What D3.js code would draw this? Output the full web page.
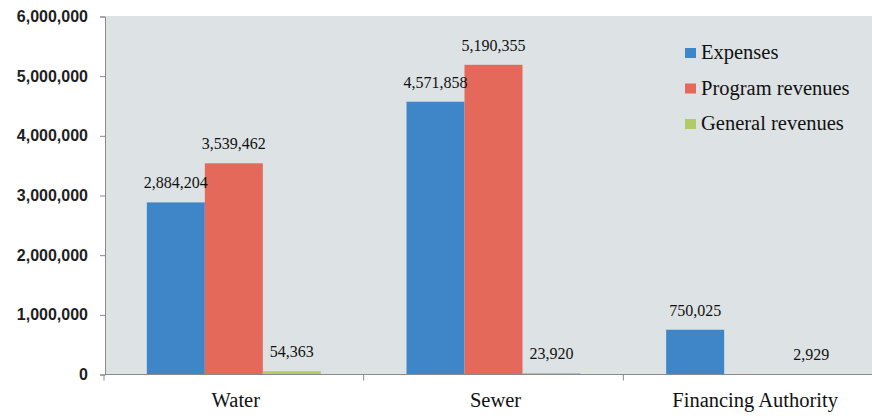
<!DOCTYPE html>
<html><head><meta charset="utf-8">
<script src="https://cdn.jsdelivr.net/npm/d3@7"></script>
<style>body{margin:0;background:#fff}svg{display:block}</style>
</head><body>
<svg id="chart" width="872" height="416"></svg>
<script>
const categories = ["Water", "Sewer", "Financing Authority"];
const seriesNames = ["Expenses", "Program revenues", "General revenues"];
const expenses = [2884204, 4571858, 750025];
const programRevenues = [3539462, 5190355, 0];
const generalRevenues = [54363, 23920, 2929];
const yTicks = [0, 1000000, 2000000, 3000000, 4000000, 5000000, 6000000];
const colors = ["#3f86c9", "#e4695a", "#b3cb66"];

const seriesValues = [expenses, programRevenues, generalRevenues];
const svg = d3.select("#chart");
const W = 872, H = 416;
const plotLeft = 105, plotRight = 872, plotTop = 16, plotBottom = 374.5;

const y = d3.scaleLinear().domain([0, 6000000]).range([plotBottom, 16.5]);
const x0 = d3.scaleBand().domain(categories).range([104, 883]).paddingInner(0).paddingOuter(0);
const x1 = d3.scaleBand().domain(seriesNames).range([0, x0.bandwidth()]).paddingInner(0).paddingOuter(0.7386);

// plot background
svg.append("rect").attr("x", plotLeft).attr("y", plotTop)
  .attr("width", plotRight - plotLeft).attr("height", plotBottom - plotTop)
  .attr("fill", "#dde2e4");

// y axis
const yAxis = d3.axisLeft(y).tickValues(yTicks).tickSize(5).tickPadding(12)
  .tickFormat(d => d3.format(",")(d));
const gy = svg.append("g").attr("transform", `translate(${plotLeft},0)`).call(yAxis);
gy.select(".domain").attr("stroke", "#8a8a8a");
gy.selectAll(".tick line").attr("stroke", "#8a8a8a");
gy.selectAll(".tick text").attr("font-family", "'Liberation Sans', Arial, sans-serif")
  .attr("font-weight", "bold").attr("font-size", "16px").attr("fill", "#1e1e1e");

// bars
const groups = svg.append("g").selectAll("g").data(categories).join("g")
  .attr("transform", d => `translate(${x0(d)},0)`);
seriesNames.forEach((s, si) => {
  groups.append("rect")
    .attr("x", x1(s)).attr("width", x1.bandwidth())
    .attr("y", (d, ci) => y(seriesValues[si][ci]))
    .attr("height", (d, ci) => y(0) - y(seriesValues[si][ci]))
    .attr("fill", colors[si]);
});
// value labels
seriesNames.forEach((s, si) => {
  groups.each(function(d, ci) {
    const v = seriesValues[si][ci];
    if (v <= 0) return;
    d3.select(this).append("text")
      .attr("x", x1(s) + x1.bandwidth() / 2)
      .attr("y", y(v) - 14)
      .attr("text-anchor", "middle")
      .attr("font-family", "'Liberation Serif', 'Times New Roman', serif")
      .attr("font-size", "16px").attr("fill", "#111")
      .text(d3.format(",")(v));
  });
});

// x axis
svg.append("line").attr("x1", plotLeft).attr("x2", plotRight)
  .attr("y1", plotBottom).attr("y2", plotBottom).attr("stroke", "#8a8a8a");
const xt = svg.append("g");
[104, ...categories.slice(1).map(c => x0(c))].forEach(xx => {
  xt.append("line").attr("x1", xx).attr("x2", xx)
    .attr("y1", plotBottom).attr("y2", plotBottom + 6).attr("stroke", "#8a8a8a");
});
svg.append("g").selectAll("text").data(categories).join("text")
  .attr("x", d => x0(d) + x0.bandwidth() / 2 + 2)
  .attr("y", 407)
  .attr("text-anchor", "middle")
  .attr("font-family", "'Liberation Serif', 'Times New Roman', serif")
  .attr("font-size", "20.5px").attr("fill", "#111")
  .text(d => d);

// legend
const lg = svg.append("g").attr("transform", "translate(685,0)");
seriesNames.forEach((s, i) => {
  const by = 59 + i * 35.5;
  lg.append("rect").attr("x", 0).attr("y", by - 11).attr("width", 11).attr("height", 10).attr("fill", colors[i]);
  lg.append("text").attr("x", 16).attr("y", by)
    .attr("font-family", "'Liberation Serif', 'Times New Roman', serif")
    .attr("font-size", "20.5px").attr("fill", "#111").text(s);
});
</script>
</body></html>
